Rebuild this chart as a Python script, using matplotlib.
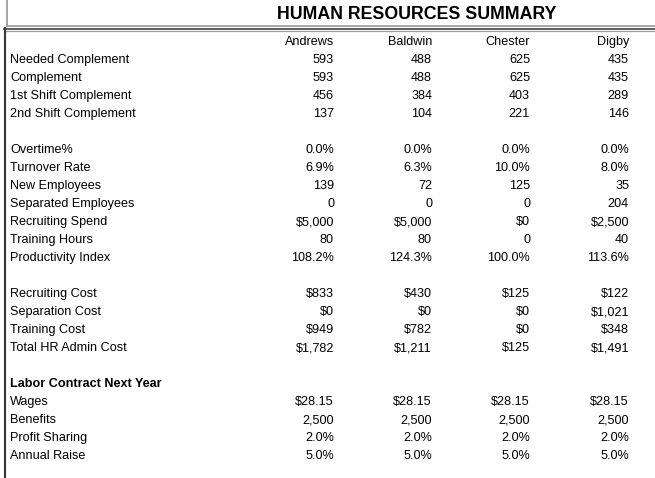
import matplotlib
matplotlib.use("Agg")
import matplotlib.pyplot as plt

# ---- data ----
title = "HUMAN RESOURCES SUMMARY"
companies = ["Andrews", "Baldwin", "Chester", "Digby"]

needed_complement = [593, 488, 625, 435]
complement = [593, 488, 625, 435]
first_shift = [456, 384, 403, 289]
second_shift = [137, 104, 221, 146]

overtime_pct = [0.0, 0.0, 0.0, 0.0]
turnover_rate = [6.9, 6.3, 10.0, 8.0]
new_employees = [139, 72, 125, 35]
separated_employees = [0, 0, 0, 204]
recruiting_spend = [5000, 5000, 0, 2500]
training_hours = [80, 80, 0, 40]
productivity_index = [108.2, 124.3, 100.0, 113.6]

recruiting_cost = [833, 430, 125, 122]
separation_cost = [0, 0, 0, 1021]
training_cost = [949, 782, 0, 348]
total_hr_admin_cost = [1782, 1211, 125, 1491]

labor_header = "Labor Contract Next Year"
wages = [28.15, 28.15, 28.15, 28.15]
benefits = [2500, 2500, 2500, 2500]
profit_sharing = [2.0, 2.0, 2.0, 2.0]
annual_raise = [5.0, 5.0, 5.0, 5.0]

def f_int(v): return f"{v:,.0f}"
def f_pct(v): return f"{v:.1f}%"
def f_usd(v): return f"${v:,.0f}"
def f_usd2(v): return f"${v:,.2f}"

sections = [
    [("Needed Complement", needed_complement, f_int),
     ("Complement", complement, f_int),
     ("1st Shift Complement", first_shift, f_int),
     ("2nd Shift Complement", second_shift, f_int)],
    [("Overtime%", overtime_pct, f_pct),
     ("Turnover Rate", turnover_rate, f_pct),
     ("New Employees", new_employees, f_int),
     ("Separated Employees", separated_employees, f_int),
     ("Recruiting Spend", recruiting_spend, f_usd),
     ("Training Hours", training_hours, f_int),
     ("Productivity Index", productivity_index, f_pct)],
    [("Recruiting Cost", recruiting_cost, f_usd),
     ("Separation Cost", separation_cost, f_usd),
     ("Training Cost", training_cost, f_usd),
     ("Total HR Admin Cost", total_hr_admin_cost, f_usd)],
    [(labor_header, None, None),
     ("Wages", wages, f_usd2),
     ("Benefits", benefits, f_int),
     ("Profit Sharing", profit_sharing, f_pct),
     ("Annual Raise", annual_raise, f_pct)],
]

# ---- layout ----
W, H = 655, 478
fig = plt.figure(figsize=(W / 100, H / 100), dpi=100)
ax = fig.add_axes([0, 0, 1, 1])
ax.set_xlim(0, W)
ax.set_ylim(H, 0)
ax.axis("off")

FONT = "Liberation Sans"
TXT = "#000000"
FS = 9.1
px = 0.72  # points per pixel

# frame lines
ax.plot([6.5, 6.5], [0, 25.5], color="#8a8a8a", lw=1.5 * px)
ax.plot([6.5, W], [25.5, 25.5], color="#8a8a8a", lw=1.5 * px)
ax.plot([4, W], [28.8, 28.8], color="#3a3a3a", lw=1.6 * px)
ax.plot([4, W], [31.2, 31.2], color="#9a9a9a", lw=1.2 * px)
ax.plot([4.5, 4.5], [28, H], color="#3a3a3a", lw=2.2 * px)

ax.text(416.5, 18.8, title, ha="center", va="baseline", fontsize=12.8,
        fontweight="bold", family=FONT, color=TXT)

col_right = [334, 432, 530, 629]
label_x = 10
BASE = 4.6
for cx, name in zip(col_right, companies):
    ax.text(cx, 40.5 + BASE, name, ha="right", va="baseline", fontsize=FS,
            family=FONT, color=TXT)

y = 58.5
pitch = 18
for sec in sections:
    for label, vals, fmt in sec:
        if vals is None:
            ax.text(label_x, y + BASE, label, ha="left", va="baseline", fontsize=FS,
                    fontweight="bold", family=FONT, color=TXT)
        else:
            ax.text(label_x, y + BASE, label, ha="left", va="baseline", fontsize=FS,
                    family=FONT, color=TXT)
            for cx, v in zip(col_right, vals):
                ax.text(cx, y + BASE, fmt(v), ha="right", va="baseline", fontsize=FS,
                        family=FONT, color=TXT)
        y += pitch
    y += pitch

fig.savefig("out.png", dpi=100, facecolor="white")
